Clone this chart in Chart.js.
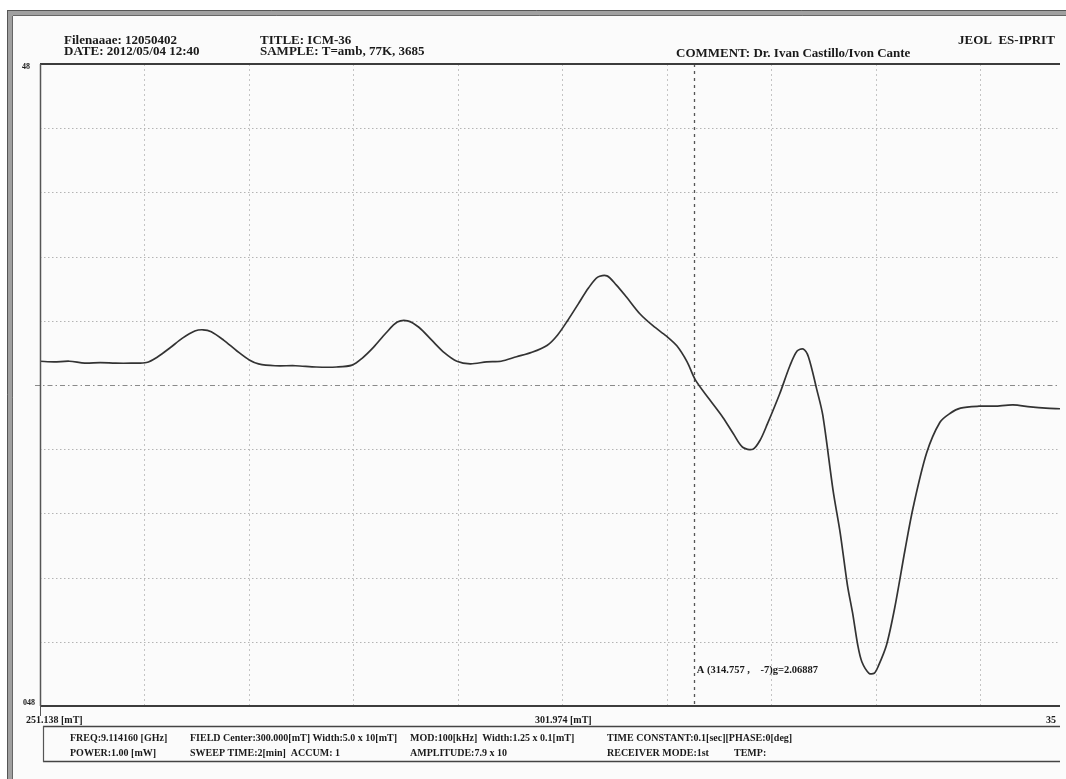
<!DOCTYPE html>
<html>
<head>
<meta charset="utf-8">
<script src="https://cdn.jsdelivr.net/npm/chart.js@4/dist/chart.umd.min.js"></script>
<style>
  html, body { margin: 0; padding: 0; background: #fff; }
  canvas { display: block; }
</style>
</head>
<body>
<canvas id="esr" width="1066" height="779"></canvas>
<script>
// magnetic field (mT) and ESR signal (grid units, -5..5)
const fieldMT = [
  251.14, 252.5, 254.0, 255.5, 257.0, 258.5, 260.0, 261.5,
  262.6, 263.8, 265.0, 266.2, 267.0, 267.8, 269.0, 270.3, 271.5, 272.4,
  274.0, 276.0, 278.0, 280.0, 281.5,
  282.5, 283.6, 284.8, 285.9, 286.9, 288.0, 289.3, 290.5, 291.7,
  293.0, 294.6, 296.0, 297.5, 299.0, 300.5, 301.5, 302.5, 303.5, 304.5,
  305.4, 306.3, 307.2, 308.2, 309.5, 310.8, 312.1, 313.1, 314.1, 314.9,
  316.3, 317.6, 318.6, 319.5, 320.5, 321.2, 321.9, 323.1, 324.1, 324.8,
  325.4, 325.9, 326.7, 327.3, 328.3, 329.0, 329.7, 330.2, 330.7, 331.1,
  331.8, 332.3, 332.7, 333.5, 334.3, 335.3, 336.1, 337.4, 338.7, 339.7,
  340.7, 342.5, 344.0, 345.8, 347.5, 349.0, 350.38
]
const signal = [
  0.37, 0.36, 0.37, 0.34, 0.35, 0.34, 0.34, 0.35,
  0.44, 0.58, 0.73, 0.84, 0.86, 0.83, 0.70, 0.53, 0.39, 0.33,
  0.30, 0.30, 0.28, 0.28, 0.31,
  0.42, 0.59, 0.81, 0.98, 1.00, 0.90, 0.69, 0.50, 0.37,
  0.33, 0.36, 0.37, 0.44, 0.51, 0.62, 0.78, 1.01, 1.26, 1.51,
  1.68, 1.70, 1.56, 1.37, 1.11, 0.92, 0.76, 0.61, 0.36, 0.08,
  -0.23, -0.51, -0.76, -0.97, -1.00, -0.86, -0.61, -0.14, 0.30, 0.53,
  0.56, 0.44, -0.06, -0.47, -1.64, -2.31, -3.12, -3.55, -4.05, -4.31,
  -4.49, -4.49, -4.38, -4.05, -3.47, -2.57, -1.90, -1.06, -0.58, -0.44,
  -0.36, -0.33, -0.33, -0.31, -0.34, -0.36, -0.37
]

// grid: sweep 251.138 .. 352.810 mT split in 10 divisions, signal -5..5
const xGridTicks = [261.305, 271.472, 281.640, 291.807, 301.974, 312.141, 322.308, 332.476, 342.643]
const yGridTicks = [-4, -3, -2, -1, 1, 2, 3, 4]
const cursorField = 314.757

const headerLines = [
  ['Filenaaae: 12050402', 64, 41],
  ['DATE: 2012/05/04 12:40', 64, 52],
  ['TITLE: ICM-36', 260, 41],
  ['SAMPLE: T=amb, 77K, 3685', 260, 52],
  ['COMMENT: Dr. Ivan Castillo/Ivon Cante', 676, 54],
  ['JEOL  ES-IPRIT', 958, 41],
]
const infoLines = [
  ['FREQ:9.114160 [GHz]', 70, 738],
  ['FIELD Center:300.000[mT] Width:5.0 x 10[mT]', 190, 738],
  ['MOD:100[kHz]  Width:1.25 x 0.1[mT]', 410, 738],
  ['TIME CONSTANT:0.1[sec][PHASE:0[deg]', 607, 738],
  ['POWER:1.00 [mW]', 70, 753],
  ['SWEEP TIME:2[min]  ACCUM: 1', 190, 753],
  ['AMPLITUDE:7.9 x 10', 410, 753],
  ['RECEIVER MODE:1st', 607, 753],
  ['TEMP:', 734, 753],
]

const SERIF = '"Liberation Serif", "DejaVu Serif", serif'

function hline(ctx, x1, x2, y, color, width, dash) {
  ctx.save()
  ctx.strokeStyle = color
  ctx.lineWidth = width
  ctx.setLineDash(dash || [])
  ctx.beginPath()
  ctx.moveTo(x1, y)
  ctx.lineTo(x2, y)
  ctx.stroke()
  ctx.restore()
}

function vline(ctx, x, y1, y2, color, width, dash) {
  ctx.save()
  ctx.strokeStyle = color
  ctx.lineWidth = width
  ctx.setLineDash(dash || [])
  ctx.beginPath()
  ctx.moveTo(x, y1)
  ctx.lineTo(x, y2)
  ctx.stroke()
  ctx.restore()
}

const recorderSheet = {
  id: 'recorderSheet',
  beforeDraw(chart) {
    const { ctx, width, height, chartArea: a, scales: { x, y } } = chart
    ctx.save()
    ctx.fillStyle = '#ffffff'
    ctx.fillRect(0, 0, width, height)

    // outer scanned frame (left and top, double grey)
    ctx.fillStyle = '#a0a0a0'
    ctx.fillRect(7, 10, width - 7, 6)
    ctx.fillRect(7, 10, 6, height - 10)
    ctx.fillStyle = '#fbfbfb'
    ctx.fillRect(13, 16, width - 13, height - 16)
    hline(ctx, 7, width, 10.5, '#555', 1)
    hline(ctx, 13, width, 15.5, '#666', 1)
    vline(ctx, 7.5, 10, height, '#555', 1)
    vline(ctx, 12.5, 16, height, '#666', 1)

    // grid
    xGridTicks.forEach(v => {
      vline(ctx, Math.round(x.getPixelForValue(v)) + 0.5, a.top, a.bottom, '#c4c4c4', 1, [2, 3])
    })
    yGridTicks.forEach(v => {
      hline(ctx, a.left, a.right, Math.round(y.getPixelForValue(v)) + 0.5, '#b4b4b4', 1, [1.5, 2.5])
    })
    hline(ctx, a.left - 5, a.right, Math.round(y.getPixelForValue(0)) + 0.5, '#8a8a8a', 1, [5, 3, 1.5, 3])

    // cursor marker
    vline(ctx, Math.round(x.getPixelForValue(cursorField)) + 0.5, a.top, a.bottom, '#555', 1.3, [3, 4])
    ctx.restore()
  },
  afterDraw(chart) {
    const { ctx, chartArea: a, scales: { x, y } } = chart
    ctx.save()
    // plot frame
    hline(ctx, a.left, a.right, a.top, '#3c3c3c', 2)
    hline(ctx, a.left, a.right, a.bottom, '#3c3c3c', 2)
    vline(ctx, a.left + 0.5, a.top, a.bottom, '#555', 1.5)
    vline(ctx, a.left + 0.5, a.bottom, a.bottom + 10, '#555', 1)

    // info box under the axis
    hline(ctx, 43, a.right, 726.5, '#444', 1.5)
    hline(ctx, 43, a.right, 761.5, '#444', 1.5)
    vline(ctx, 43.5, 726, 762, '#555', 1.2)

    ctx.fillStyle = '#1a1a1a'
    ctx.textBaseline = 'middle'
    ctx.textAlign = 'left'
    ctx.font = 'bold 13px ' + SERIF
    headerLines.forEach(([t, tx, ty]) => ctx.fillText(t, tx, ty))

    ctx.font = 'bold 8px ' + SERIF
    ctx.fillText('48', 22, 67)
    ctx.fillText('048', 23, 703)

    ctx.font = 'bold 10px ' + SERIF
    ctx.fillText('251.138 [mT]', 26, 720)
    ctx.fillText('301.974 [mT]', 535, 720)
    ctx.fillText('35', 1046, 720)

    ctx.font = 'bold 10px ' + SERIF
    infoLines.forEach(([t, tx, ty]) => ctx.fillText(t, tx, ty))

    ctx.font = 'bold 10.5px ' + SERIF
    ctx.fillText('A (314.757 ,    -7)g=2.06887', x.getPixelForValue(cursorField) + 3, y.getPixelForValue(-4.45))
    ctx.restore()
  }
}

new Chart(document.getElementById('esr'), {
  type: 'line',
  data: {
    datasets: [{
      data: fieldMT.map((f, i) => ({ x: f, y: signal[i] })),
      borderColor: '#333333',
      borderWidth: 1.7,
      pointRadius: 0,
      fill: false,
      tension: 0.3,
    }],
  },
  options: {
    responsive: false,
    animation: false,
    layout: { padding: { left: 40, top: 64, right: 6, bottom: 73 } },
    plugins: { legend: { display: false }, tooltip: { enabled: false } },
    scales: {
      x: { type: 'linear', min: 251.138, max: 350.38, display: false },
      y: { type: 'linear', min: -5, max: 5, display: false },
    },
  },
  plugins: [recorderSheet],
})
</script>
</body>
</html>
